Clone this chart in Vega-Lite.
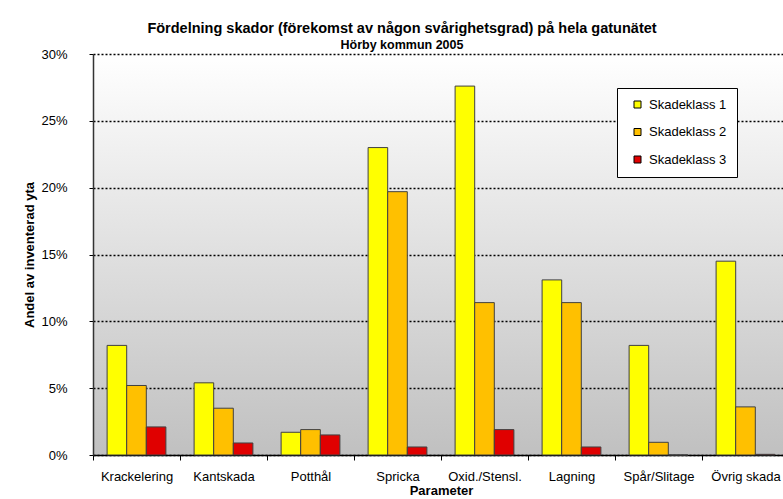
{
  "$schema": "https://vega.github.io/schema/vega-lite/v6.json",
  "autosize": {"type": "none"},
  "width": 690,
  "height": 401,
  "padding": {"left": 93, "top": 54, "right": 0, "bottom": 44},
  "background": "white",
  "title": {
    "text": "Fördelning skador (förekomst av någon svårighetsgrad) på hela gatunätet",
    "subtitle": "Hörby kommun 2005",
    "anchor": "middle",
    "dx": -36,
    "dy": 5,
    "fontSize": 14.5,
    "fontWeight": "bold",
    "subtitleFontSize": 12.5,
    "subtitleFontWeight": "bold",
    "subtitleColor": "black",
    "subtitlePadding": 2,
    "offset": 1,
    "color": "black"
  },
  "data": {
    "values": [
      {"param": "Krackelering", "klass": "Skadeklass 1", "andel": 0.082},
      {"param": "Krackelering", "klass": "Skadeklass 2", "andel": 0.052},
      {"param": "Krackelering", "klass": "Skadeklass 3", "andel": 0.021},
      {"param": "Kantskada", "klass": "Skadeklass 1", "andel": 0.054},
      {"param": "Kantskada", "klass": "Skadeklass 2", "andel": 0.035},
      {"param": "Kantskada", "klass": "Skadeklass 3", "andel": 0.009},
      {"param": "Potthål", "klass": "Skadeklass 1", "andel": 0.017},
      {"param": "Potthål", "klass": "Skadeklass 2", "andel": 0.019},
      {"param": "Potthål", "klass": "Skadeklass 3", "andel": 0.015},
      {"param": "Spricka", "klass": "Skadeklass 1", "andel": 0.230},
      {"param": "Spricka", "klass": "Skadeklass 2", "andel": 0.197},
      {"param": "Spricka", "klass": "Skadeklass 3", "andel": 0.006},
      {"param": "Oxid./Stensl.", "klass": "Skadeklass 1", "andel": 0.276},
      {"param": "Oxid./Stensl.", "klass": "Skadeklass 2", "andel": 0.114},
      {"param": "Oxid./Stensl.", "klass": "Skadeklass 3", "andel": 0.019},
      {"param": "Lagning", "klass": "Skadeklass 1", "andel": 0.131},
      {"param": "Lagning", "klass": "Skadeklass 2", "andel": 0.114},
      {"param": "Lagning", "klass": "Skadeklass 3", "andel": 0.006},
      {"param": "Spår/Slitage", "klass": "Skadeklass 1", "andel": 0.082},
      {"param": "Spår/Slitage", "klass": "Skadeklass 2", "andel": 0.0095},
      {"param": "Spår/Slitage", "klass": "Skadeklass 3", "andel": 0.0},
      {"param": "Övrig skada", "klass": "Skadeklass 1", "andel": 0.145},
      {"param": "Övrig skada", "klass": "Skadeklass 2", "andel": 0.036},
      {"param": "Övrig skada", "klass": "Skadeklass 3", "andel": 0.0005}
    ]
  },
  "mark": {"type": "bar", "stroke": "#404040", "strokeWidth": 1},
  "encoding": {
    "x": {
      "field": "param",
      "type": "nominal",
      "sort": null,
      "title": "Parameter",
      "scale": {"range": [0, 696], "paddingInner": 0, "paddingOuter": 0},
      "axis": {
        "labelAngle": 0,
        "tickBand": "extent",
        "tickSize": 5,
        "labelPadding": 10,
        "labelFontSize": 13,
        "labelColor": "black",
        "titleFontSize": 13,
        "titleFontWeight": "bold",
        "titleColor": "black",
        "titlePadding": 1,
        "domainColor": "black",
        "tickColor": "black",
        "domainWidth": 1.5,
        "grid": false
      }
    },
    "xOffset": {
      "field": "klass",
      "type": "nominal",
      "scale": {"paddingInner": 0, "paddingOuter": 0.72}
    },
    "y": {
      "field": "andel",
      "type": "quantitative",
      "title": "Andel av inventerad yta",
      "scale": {"domain": [0, 0.3], "nice": false},
      "axis": {
        "values": [0, 0.05, 0.1, 0.15, 0.2, 0.25, 0.3],
        "format": ".0%",
        "labelFontSize": 13,
        "labelColor": "black",
        "labelPadding": 22,
        "tickSize": 4,
        "tickColor": "black",
        "domainColor": "#333333",
        "domainWidth": 1.5,
        "grid": true,
        "gridColor": "black",
        "gridDash": [2, 2],
        "gridWidth": 1.5,
        "titleFontSize": 13,
        "titleFontWeight": "bold",
        "titleColor": "black",
        "titlePadding": 4
      }
    },
    "color": {
      "field": "klass",
      "type": "nominal",
      "title": null,
      "scale": {"domain": ["Skadeklass 1", "Skadeklass 2", "Skadeklass 3"], "range": ["#ffff00", "#ffc000", "#e00000"]},
      "legend": {
        "orient": "none",
        "legendX": 524,
        "legendY": 34,
        "fillColor": "white",
        "strokeColor": "black",
        "padding": 10,
        "symbolType": "square",
        "symbolSize": 49,
        "symbolStrokeColor": "black",
        "symbolStrokeWidth": 1,
        "symbolOffset": 4,
        "labelOffset": 5,
        "labelFontSize": 13,
        "labelColor": "black",
        "rowPadding": 13.5
      }
    }
  },
  "config": {
    "font": "Liberation Sans",
    "view": {
      "stroke": null,
      "fill": {
        "gradient": "linear",
        "x1": 0, "y1": 0, "x2": 0, "y2": 1,
        "stops": [
          {"offset": 0, "color": "#ffffff"},
          {"offset": 1, "color": "#c0c0c0"}
        ]
      }
    }
  }
}
